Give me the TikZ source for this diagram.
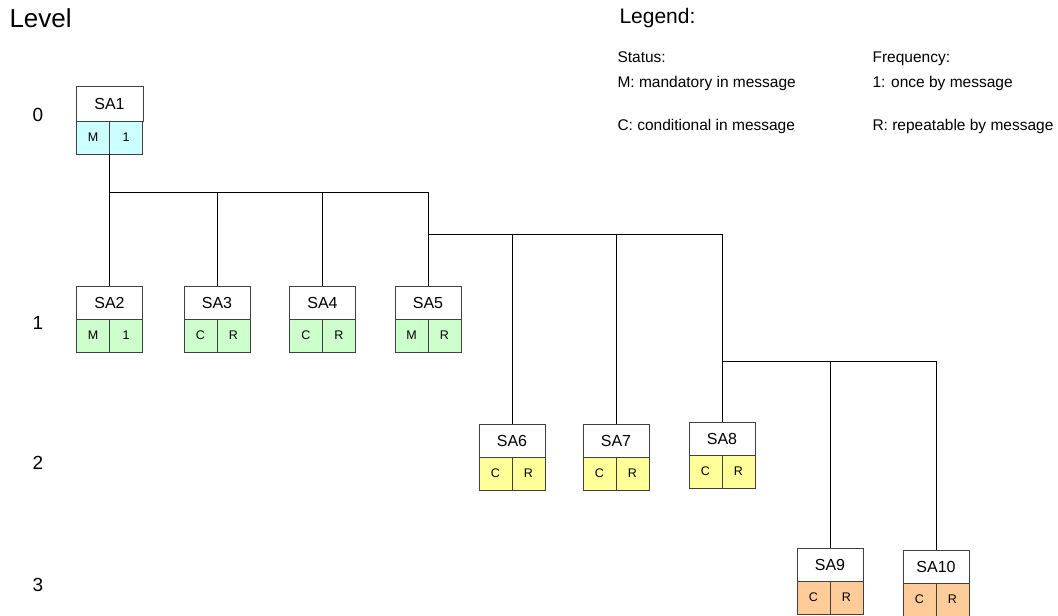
\documentclass[tikz,border=0pt]{standalone}
\usepackage{fontspec}
\setmainfont{Liberation Sans}
\usetikzlibrary{positioning}

\definecolor{cyanfill}{HTML}{CCFFFF}
\definecolor{greenfill}{HTML}{CCFFCC}
\definecolor{yellowfill}{HTML}{FFFF99}
\definecolor{orangefill}{HTML}{FFCC99}
\definecolor{boxline}{HTML}{404040}

\begin{document}
\begin{tikzpicture}[x=1pt,y=-1pt,
  namebox/.style={draw=boxline,line width=0.8pt,fill=white,minimum width=66pt,
    minimum height=33pt,inner sep=0pt,outer sep=0pt,anchor=north,
    font=\fontsize{16}{19}\selectfont},
  statbox/.style={draw=boxline,line width=0.8pt,minimum width=33pt,
    minimum height=33pt,inner sep=0pt,outer sep=0pt,
    font=\fontsize{12.5}{14}\selectfont},
  lvltext/.style={font=\fontsize{19}{22}\selectfont,anchor=base},
  legtext/.style={font=\fontsize{15.5}{18}\selectfont,anchor=base west},
  link/.style={line width=0.8pt}]
  \useasboundingbox (0,0) rectangle (1058,616);

  % level column
  \node[lvltext,anchor=base west,font=\fontsize{26}{30}\selectfont] (level) at (6,27) {Level};
  \node[lvltext] (lv0) at (38,121) {0};
  \node[lvltext] (lv1) at (38,329) {1};
  \node[lvltext] (lv2) at (38,469) {2};
  \node[lvltext] (lv3) at (38,591) {3};

  % legend
  \node[legtext,font=\fontsize{21}{24}\selectfont] (legend) at (616,23) {Legend:};
  \node[legtext] (status) at (614,62) {Status:};
  \node[legtext] (mand) at (614,87) {M: mandatory in message};
  \node[legtext] (cond) at (614,130) {C: conditional in message};
  \node[legtext] (freq) at (869,62) {Frequency:};
  \node[legtext] (once) at (869,87) {1: once by message};
  \node[legtext] (rep) at (869,130) {R: repeatable by message};

  % level 0
  \node[namebox,minimum width=67pt,minimum height=35pt] (sa1) at (109.5,86) {SA1};
  \node[statbox,fill=cyanfill,below left=0pt and 0pt of sa1.south] (sa1s) {M};
  \node[statbox,fill=cyanfill,below right=0pt and 0pt of sa1.south] (sa1f) {1};

  % level 1
  \node[namebox] (sa2) at (109.5,286) {SA2};
  \node[statbox,fill=greenfill,below left=0pt and 0pt of sa2.south] (sa2s) {M};
  \node[statbox,fill=greenfill,below right=0pt and 0pt of sa2.south] (sa2f) {1};
  \node[namebox] (sa3) at (217,286) {SA3};
  \node[statbox,fill=greenfill,below left=0pt and 0pt of sa3.south] (sa3s) {C};
  \node[statbox,fill=greenfill,below right=0pt and 0pt of sa3.south] (sa3f) {R};
  \node[namebox] (sa4) at (322.5,286) {SA4};
  \node[statbox,fill=greenfill,below left=0pt and 0pt of sa4.south] (sa4s) {C};
  \node[statbox,fill=greenfill,below right=0pt and 0pt of sa4.south] (sa4f) {R};
  \node[namebox] (sa5) at (428,286) {SA5};
  \node[statbox,fill=greenfill,below left=0pt and 0pt of sa5.south] (sa5s) {M};
  \node[statbox,fill=greenfill,below right=0pt and 0pt of sa5.south] (sa5f) {R};

  % level 2
  \node[namebox] (sa6) at (512,424) {SA6};
  \node[statbox,fill=yellowfill,below left=0pt and 0pt of sa6.south] (sa6s) {C};
  \node[statbox,fill=yellowfill,below right=0pt and 0pt of sa6.south] (sa6f) {R};
  \node[namebox] (sa7) at (616,424) {SA7};
  \node[statbox,fill=yellowfill,below left=0pt and 0pt of sa7.south] (sa7s) {C};
  \node[statbox,fill=yellowfill,below right=0pt and 0pt of sa7.south] (sa7f) {R};
  \node[namebox] (sa8) at (722,422) {SA8};
  \node[statbox,fill=yellowfill,below left=0pt and 0pt of sa8.south] (sa8s) {C};
  \node[statbox,fill=yellowfill,below right=0pt and 0pt of sa8.south] (sa8f) {R};

  % level 3
  \node[namebox] (sa9) at (830,548) {SA9};
  \node[statbox,fill=orangefill,below left=0pt and 0pt of sa9.south] (sa9s) {C};
  \node[statbox,fill=orangefill,below right=0pt and 0pt of sa9.south] (sa9f) {R};
  \node[namebox] (sa10) at (936,550) {SA10};
  \node[statbox,fill=orangefill,below left=0pt and 0pt of sa10.south] (sa10s) {C};
  \node[statbox,fill=orangefill,below right=0pt and 0pt of sa10.south] (sa10f) {R};

  % branch points
  \coordinate (b1) at (109.5,192);
  \coordinate (b2) at (428,234);
  \coordinate (b3) at (722,361);

  \draw[link] (sa1s.south east) -- (b1) -| (sa5.north);
  \draw[link] (b1) -- (sa2.north);
  \draw[link] (b1) -| (sa3.north);
  \draw[link] (b1) -| (sa4.north);
  \draw[link] (b2) -| (sa8.north);
  \draw[link] (b2) -| (sa6.north);
  \draw[link] (b2) -| (sa7.north);
  \draw[link] (b3) -| (sa10.north);
  \draw[link] (b3) -| (sa9.north);
\end{tikzpicture}
\end{document}
